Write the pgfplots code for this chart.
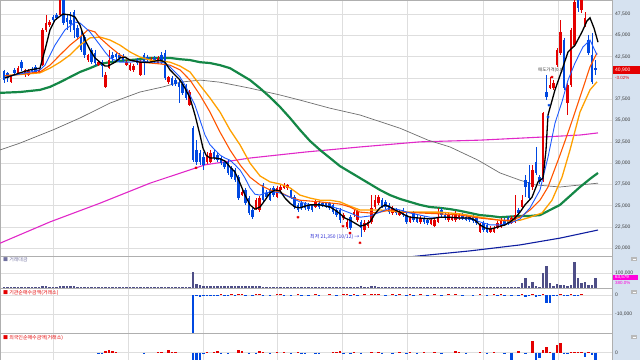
\documentclass[border=0pt]{standalone}
\usepackage{fontspec}
\setmainfont{Liberation Sans}
\newfontfamily\kr{Noto Sans CJK KR}
\usepackage{pgfplots}
\pgfplotsset{compat=1.18}
\usepackage{pgfplotstable}
\usetikzlibrary{backgrounds}
\definecolor{upc}{RGB}{228,0,0}
\definecolor{dnc}{RGB}{0,72,225}
\definecolor{ma10}{RGB}{30,90,255}
\definecolor{ma20}{RGB}{255,85,0}
\definecolor{ma30}{RGB}{255,160,0}
\definecolor{ma60}{RGB}{20,135,70}
\definecolor{ma120}{RGB}{110,110,110}
\definecolor{ma240}{RGB}{225,40,200}
\definecolor{ma480}{RGB}{15,30,160}
\definecolor{gridc}{RGB}{222,222,222}
\definecolor{framec}{RGB}{175,175,175}
\definecolor{stripc}{RGB}{214,226,240}
\definecolor{labc}{RGB}{60,60,60}
\definecolor{volc}{RGB}{78,78,135}
\definecolor{minc}{RGB}{40,40,210}
\definecolor{magc}{RGB}{255,0,220}

\pgfplotsset{
  panel/.style={
    scale only axis, width=612bp, xmin=0, xmax=612,
    clip mode=global,
    axis line style={draw=framec, line width=0.6bp},
    xtick={53,128,203,277,342,407,483,558}, xticklabels={},
    major tick length=0pt,
    xmajorgrids, ymajorgrids,
    grid style={draw=gridc, line width=0.6bp},
    yticklabel pos=right,
    scaled y ticks=false,
    yticklabel style={font=\fontsize{5}{6}\selectfont, text=labc, inner sep=1bp, xshift=2bp},
    /pgf/number format/fixed, /pgf/number format/precision=0,
    /pgf/number format/1000 sep={,}, /pgf/number format/assume math mode=true,
  },
  wick/.style={draw=none, mark=none, forget plot,
    error bars/.cd, y dir=minus, y explicit, error mark=none,
    error bar style={line width=0.7bp, draw=#1}},
  body/.style={draw=none, mark=none, forget plot,
    error bars/.cd, y dir=minus, y explicit, error mark=none,
    error bar style={line width=2.4bp, draw=#1}},
}

% x o h l c  (rising candles)
\pgfplotstableread{
x o h l c
11 39500 40250 39400 40100
18 40600 41400 40350 41150
25 40350 41050 40100 40950
28.5 40350 41050 40250 40800
39 40700 41050 40600 40950
42.5 41500 45850 41400 45650
46 45650 47400 45400 46450
49.5 46200 46800 46000 46550
60 47400 49500 47250 49400
88 42100 42800 41850 42700
98.5 41500 42100 41400 41850
105.5 38950 40700 38800 40350
109 41150 43300 41050 42100
126.5 41500 42100 41400 41850
130 40950 41750 40800 41500
133.5 40950 41650 40700 41400
140.5 40350 42100 40250 41850
151 41850 42450 41750 42200
158 41750 42600 41650 42350
168.5 39500 40250 39300 40100
189.5 36800 38600 36700 38350
207 30150 31300 29900 30950
210.5 30150 31550 30000 31200
242 26250 27100 26150 26600
256 24750 25900 24500 25650
259.5 24500 26150 24250 25900
277 26000 27300 25900 27100
280.5 26850 27450 26750 27200
284 27100 27650 26950 27450
287.5 27100 27550 26850 27450
315.5 24850 25650 24750 25450
343.5 23550 24150 23300 23900
347 22500 23300 22250 23100
354 23900 24500 23650 24250
357.5 23300 24500 23100 24350
364.5 22150 23300 21900 22950
368 22600 23300 22400 23100
371.5 23100 26250 22850 24750
375 24850 26250 24600 25650
378.5 25300 26250 25100 26000
392.5 24150 24950 23900 24750
399.5 23900 24500 23800 24250
410 23100 23800 22950 23550
420.5 23100 23800 22850 23550
431 22850 23550 22750 23300
434.5 22600 23550 22500 23300
438 23100 24750 22950 23650
448.5 23300 24150 23100 23900
452 23300 23900 23200 23650
455.5 23300 24400 23100 24150
459 23550 24150 23300 23900
480 21900 22950 21800 22750
490.5 21900 22600 21800 22400
494 21900 22600 21800 22400
497.5 22400 23200 22250 22950
501 22500 23550 22400 23300
511.5 22950 23800 22850 23550
515 23100 26250 22950 23900
522 24850 26250 24600 25650
532.5 27200 29800 26850 29200
543 28000 36000 27800 35900
550 38800 40100 38700 39150
553.5 38800 39750 38600 39400
557 41500 43500 41300 43300
560.5 42950 46800 42700 45400
567.5 37050 39400 35650 39150
571 39150 45850 38950 45650
574.5 43850 49750 43650 48900
581.5 48000 50550 47600 49750
585 46200 47750 46000 47050
}\upcandles

% x o h l c  (falling candles)
\pgfplotstableread{
x o h l c
4 40800 40950 39400 39750
7.5 40600 40700 39500 40000
14.5 40950 41150 40350 40600
21.5 41850 42100 40800 41150
32 41050 41300 40600 40800
35.5 41300 41500 40450 40700
53 47150 47400 46350 46800
56.5 47400 47600 46800 47050
63.5 49400 49750 46200 46450
67 47050 47400 45650 46550
70.5 46800 47750 45400 46350
74 47750 48000 44700 45650
77.5 45850 46200 44450 44800
81 44800 45650 43050 43300
84.5 44800 45050 42350 42700
91.5 43300 43500 41650 41850
95 42950 43300 41400 41750
102 41850 42100 40100 41400
112.5 42700 43050 41850 42350
116 42800 43050 42100 42450
119.5 42700 42950 41850 42350
123 42600 42800 41850 42100
137 42100 42350 41500 41750
144 42700 42950 40350 41750
147.5 42450 42700 41850 42100
154.5 42350 42600 41750 42000
161.5 42700 43050 41650 41850
165 42950 43300 39750 40000
172 40000 40250 39050 39150
175.5 39750 40000 39050 39300
179 39400 39750 37050 38950
182.5 39300 39500 38000 38250
186 39050 39300 37400 37650
193 34100 34350 30150 30350
196.5 31550 32700 29800 30150
200 31200 31550 29800 30150
203.5 30700 31300 29200 29800
214 31300 31550 30350 30600
217.5 30950 31200 30150 30350
221 30600 30850 29800 30000
224.5 30150 30350 29300 29550
228 30150 30350 28600 28850
231.5 29450 29650 28150 28350
235 29200 29450 27800 28000
238.5 28350 28600 25650 25900
245.5 26850 27100 25100 25300
249 25900 26150 23900 24150
252.5 24500 24750 23450 23650
263 27450 27650 25450 25650
266.5 26500 26850 25800 26000
270 26850 27100 25550 25650
273.5 27100 27300 26000 26250
291 26850 27100 25800 26000
294.5 26000 26250 24600 24850
298 25100 25300 24250 24500
301.5 25300 25550 24500 24750
305 25300 25450 24500 24750
308.5 25100 25300 24400 24600
312 25100 25200 24250 24500
319 25300 25550 24600 24850
322.5 25300 25450 24850 25100
326 25300 25450 24750 24850
329.5 25300 25450 24500 24750
333 25100 25300 24050 24250
336.5 24500 24750 23650 23900
340 24500 24750 22950 23300
350.5 23650 23900 22150 22400
361 23100 23300 21350 22400
382 25650 25900 24750 24850
385.5 25450 25650 24600 24850
389 25100 25300 24050 24250
396 24500 24750 23900 24150
403 24500 24750 23650 23900
406.5 23900 24150 22850 23100
413.5 24150 24400 23100 23300
417 23650 23900 22950 23100
424 23550 23800 22850 23100
427.5 23300 23550 22750 22950
441.5 24500 24750 23650 23900
445 23900 24150 23300 23550
462.5 23900 24150 23300 23550
466 23650 23900 23200 23300
469.5 23650 23900 23100 23300
473 23650 23900 22950 23200
476.5 23550 23800 22750 22950
483.5 22950 23200 21900 22150
487 22750 22950 21800 21900
504.5 23300 23550 22600 22750
508 23550 23800 22750 22950
518.5 24500 24750 23900 24150
525.5 28000 28600 26000 27200
529 27800 29800 25650 25900
536 30150 31900 28600 28850
539.5 28350 28600 27550 27800
546.5 38350 40350 37400 37750
564 44450 44700 38600 38800
578 49500 50300 47750 48200
588.5 44450 45050 42700 42950
592 42700 45300 39300 39500
595.5 41150 42100 40350 40900
}\downcandles

\begin{document}
\begin{tikzpicture}

% ---------------- main price panel ----------------
\begin{axis}[panel, name=main, at={(0,0)}, anchor=north west, height=256bp,
  ymin=19100, ymax=49150,
  ytick={20000,22500,25000,27500,30000,32500,35000,37500,42500,45000,47500},
  extra y ticks={40000}, extra y tick labels={}]
% long moving averages
\addplot[ma480, line width=1.1bp] coordinates {(410,19000) (418,19100) (470,19700) (520,20400) (560,21200) (598,22150)};
\addplot[ma240, line width=1.1bp] coordinates {(0,20600) (50,23100) (100,25300) (150,27650) (205,29800) (250,30600) (305,31300) (360,31900) (420,32500) (480,32700) (540,33050) (580,33300) (598,33550)};
\addplot[ma120, line width=0.7bp] coordinates {(0,31550) (20,32350) (53,33900) (80,35300) (110,37050) (140,38350) (163,38950) (180,39500) (200,39750) (220,39500) (250,38800) (280,38000) (300,37400) (330,36450) (360,35650) (400,34100) (428,32700) (450,31900) (478,30350) (500,28850) (520,28000) (535,27450) (560,27200) (598,27650)};
\addplot[ma60, line width=2.2bp] coordinates {(0,38250) (20,38350) (40,38600) (50,38950) (60,39500) (70,40100) (80,40700) (90,41150) (100,41650) (110,41850) (120,42000) (130,42100) (140,42200) (150,42350) (170,42350) (180,42200) (190,42100) (200,41850) (210,41750) (220,41500) (230,41150) (240,40450) (250,39750) (260,38800) (270,37750) (280,36600) (290,35300) (300,33900) (310,32600) (320,31550) (330,30600) (340,29650) (350,28950) (360,28250) (370,27550) (380,26850) (390,26250) (400,25800) (410,25450) (420,25100) (430,24850) (440,24750) (450,24600) (460,24400) (470,24150) (480,23900) (490,23800) (500,23650) (520,23800) (530,23800) (540,23900) (550,24500) (560,25100) (570,26150) (580,27200) (590,28150) (598,28850)};
% candles
\addplot[wick=upc] table[x=x, y=h, y error minus expr=\thisrow{h}-\thisrow{l}] {\upcandles};
\addplot[body=upc] table[x=x, y=c, y error minus expr=\thisrow{c}-\thisrow{o}] {\upcandles};
\addplot[wick=dnc] table[x=x, y=h, y error minus expr=\thisrow{h}-\thisrow{l}] {\downcandles};
\addplot[body=dnc] table[x=x, y=o, y error minus expr=\thisrow{o}-\thisrow{c}] {\downcandles};
% short moving averages
\addplot[ma30, line width=1.3bp] coordinates {(5,40250) (40,40600) (50,41150) (60,41850) (70,42700) (80,43850) (90,44700) (100,44800) (110,44450) (120,43850) (130,43050) (140,42450) (150,42100) (160,42000) (170,41850) (180,41400) (190,40700) (200,39150) (210,37650) (220,36000) (230,33900) (240,32150) (250,30000) (260,28500) (270,27800) (280,27550) (290,27100) (300,26250) (310,25900) (320,25650) (330,25650) (340,25450) (350,24950) (360,24500) (370,24500) (380,24500) (390,24400) (400,24250) (420,24250) (440,24250) (460,24050) (480,23650) (500,23300) (510,23200) (520,23300) (530,23650) (542,24150) (552,25650) (562,28350) (570,31550) (580,36000) (590,38600) (597,39550)};
\addplot[ma20, line width=1.1bp] coordinates {(5,40250) (40,40700) (50,41500) (60,42700) (70,43850) (80,44800) (88,45650) (95,45400) (100,44700) (110,43650) (120,42700) (130,42100) (140,41850) (150,41750) (160,41650) (170,41500) (180,40950) (190,39750) (200,38000) (210,36000) (220,33650) (230,31550) (240,29800) (250,28350) (260,27450) (270,26850) (280,26600) (290,26000) (300,25650) (320,25450) (340,25200) (350,24850) (360,24250) (370,24150) (380,24250) (390,24500) (400,24250) (420,24150) (440,24050) (460,23900) (480,23550) (500,23300) (510,23300) (520,23650) (530,24500) (540,25650) (548,27200) (560,30950) (570,34250) (580,37750) (590,41300) (597,42950)};
\addplot[ma10, line width=0.9bp] coordinates {(5,40100) (30,40700) (40,40950) (45,41500) (55,43850) (65,45650) (75,46550) (80,46450) (90,45400) (100,43850) (105,43050) (110,42350) (120,41850) (130,41850) (140,42000) (150,41850) (160,41850) (165,41750) (170,41300) (175,40700) (180,40100) (185,39150) (190,38000) (195,36800) (200,35050) (205,33300) (210,32150) (215,31550) (220,30950) (225,30600) (230,30350) (235,29800) (240,29200) (245,28250) (250,27100) (255,26350) (260,26250) (265,26500) (270,26600) (275,26600) (280,26500) (290,26000) (300,25450) (310,25100) (320,25100) (330,24950) (340,24600) (350,24150) (360,23650) (370,23800) (380,24250) (390,24750) (400,24500) (410,24150) (420,23900) (430,23650) (440,23650) (450,23650) (460,23550) (470,23450) (480,23100) (490,22750) (500,22750) (510,22950) (520,23450) (530,24750) (540,26850) (548,30700) (555,34700) (562,37200) (568,39750) (575,41750) (583,43650) (590,44450) (597,42700)};
\addplot[black, line width=1.3bp] coordinates {(5,40000) (20,40600) (30,40950) (40,41150) (45,43300) (50,45650) (55,46800) (60,47250) (63,47500) (70,47400) (75,47150) (80,46200) (85,44450) (90,43300) (95,42350) (100,41850) (105,41400) (108,41400) (115,41850) (120,42350) (125,42450) (130,42100) (140,41850) (150,41850) (160,42100) (165,41850) (170,40950) (175,40350) (180,39750) (185,38800) (190,37650) (195,35650) (200,33300) (203,31750) (206,30950) (210,30600) (215,30600) (220,30500) (225,30250) (230,29550) (235,28950) (240,27650) (245,26250) (250,25100) (255,24600) (260,24850) (265,25650) (270,26500) (275,26850) (280,26750) (285,25900) (290,25300) (295,24850) (300,24750) (305,24950) (310,25100) (320,25100) (330,24850) (335,24500) (340,24050) (345,23550) (350,23300) (355,22950) (360,22600) (365,22750) (370,23100) (375,24050) (380,24750) (385,25100) (390,24850) (395,24500) (400,24250) (405,23900) (410,23650) (420,23550) (430,23450) (440,23650) (450,23650) (460,23550) (470,23550) (475,23300) (480,22750) (485,22400) (490,22250) (495,22400) (500,22600) (505,22750) (510,23100) (515,23550) (520,24250) (525,25100) (532,26000) (538,27800) (543,28250) (546,31550) (548,35650) (555,38600) (562,40950) (568,43050) (575,43850) (582,45400) (587,46700) (590,47050) (594,45850) (598,44200)};
% signal marks
\addplot[only marks, mark=asterisk, mark size=1.4bp, draw=upc, line width=0.6bp] coordinates {(196,29450) (298,23650) (343,22600) (350,21800) (360,20650) (552,40100)};
\addplot[only marks, mark=asterisk, mark size=1.4bp, draw=dnc, line width=0.6bp] coordinates {(549,36800) (548,35400)};
\node[anchor=east, font=\kr\fontsize{5}{6}\selectfont, text=minc, inner sep=0.5bp] at (axis cs:360,21300) {최저 21,350 (10/12) →};
\node[anchor=south, font=\kr\fontsize{4.5}{5}\selectfont, text=labc, inner sep=0.5bp] at (axis cs:551,40600) {매도가격(0.0)};
\end{axis}

% ---------------- trading value panel ----------------
\begin{axis}[panel, name=vol, at={(main.south west)}, anchor=north west, height=32bp,
  ymin=-3450, ymax=217000, ytick={100000}]
\addplot[ycomb, draw=volc, line width=2.3bp] coordinates {(4,6000) (7.5,5000) (11,5000) (14.5,6000) (18,5000) (21.5,6000) (25,5000) (28.5,5000) (32,5000) (35.5,5000) (39,6000) (42.5,9000) (46,8000) (49.5,6000) (53,6000) (56.5,6000) (60,9000) (63.5,9000) (67,7000) (70.5,7000) (74,7000) (77.5,6000) (81,6000) (84.5,6000) (88,5000) (91.5,5000) (95,5000) (98.5,5000) (102,5000) (105.5,6000) (109,6000) (112.5,5000) (116,5000) (119.5,5000) (123,5000) (126.5,5000) (130,5000) (133.5,5000) (137,5000) (140.5,5000) (144,5000) (147.5,5000) (151,5000) (154.5,5000) (158,5000) (161.5,5000) (165,6000) (168.5,5000) (172,5000) (175.5,5000) (179,6000) (182.5,5000) (186,6000) (189.5,6000) (193,107000) (196.5,22000) (200,14000) (203.5,12000) (207,12000) (210.5,11000) (214,9000) (217.5,8000) (221,8000) (224.5,7000) (228,8000) (231.5,7000) (235,7000) (238.5,9000) (242,7000) (245.5,7000) (249,8000) (252.5,7000) (256,7000) (259.5,8000) (263,6000) (266.5,6000) (270,5000) (273.5,5000) (277,6000) (280.5,5000) (284,5000) (287.5,5000) (291,5000) (294.5,6000) (298,5000) (301.5,5000) (305,5000) (308.5,5000) (312,5000) (315.5,5000) (319,5000) (322.5,4000) (326,4000) (329.5,5000) (333,5000) (336.5,5000) (340,6000) (343.5,5000) (347,6000) (350.5,6000) (354,5000) (357.5,5000) (361,7000) (364.5,5000) (368,5000) (371.5,9000) (375,7000) (378.5,6000) (382,5000) (385.5,5000) (389,5000) (392.5,5000) (396,4000) (399.5,4000) (403,4000) (406.5,5000) (410,4000) (413.5,4000) (417,4000) (420.5,4000) (424,4000) (427.5,4000) (431,4000) (434.5,4000) (438,5000) (441.5,5000) (445,4000) (448.5,4000) (452,4000) (455.5,4000) (459,4000) (462.5,4000) (466,4000) (469.5,4000) (473,4000) (476.5,4000) (480,5000) (483.5,5000) (487,5000) (490.5,4000) (494,4000) (497.5,4000) (501,4000) (504.5,4000) (508,4000) (511.5,4000) (515,4000) (518.5,4000) (522,33000) (525.5,63000) (529,10000) (532.5,40000) (536,10000) (539.5,6000) (543,98000) (546.5,148000) (550,33000) (553.5,10000) (557,22000) (560.5,17000) (564,17000) (567.5,10000) (571,15000) (574.5,174000) (578,63000) (581.5,33000) (585,40000) (588.5,17000) (592,17000) (595.5,68000)};
\end{axis}

% ---------------- institutional net buying ----------------
\begin{axis}[panel, name=inst, at={(vol.south west)}, anchor=north west, height=45bp,
  ymin=-20000, ymax=3700, ytick={-10000,0}]
\addplot[ycomb, draw=dnc, line width=2.3bp] coordinates {(193,-21000) (196.5,-600) (200,-1200) (203.5,-500) (207,-400) (210.5,-500) (214,-500) (217.5,-400) (224.5,-400) (228,-500) (235,-400) (245.5,-400) (252.5,-300) (263,-400) (270,-400) (284,-300) (291,-400) (301.5,-400) (308.5,-300) (319,-400) (336.5,-300) (350.5,-400) (357.5,-300) (385.5,-300) (396,-300) (406.5,-400) (413.5,-300) (427.5,-300) (441.5,-300) (462.5,-300) (473,-400) (487,-300) (497.5,-300) (504.5,-300) (511.5,-400) (518.5,-400) (525.5,-1100) (529,-400) (536,-1200) (539.5,-500) (546.5,-4200) (550,-4200) (553.5,-500) (557,-400) (564,-500) (567.5,-400) (574.5,-500) (578,-400)};
\addplot[ycomb, draw=upc, line width=2.3bp] coordinates {(221,300) (231.5,300) (238.5,400) (242,300) (256,300) (259.5,400) (277,300) (280.5,300) (298,300) (315.5,300) (329.5,300) (343.5,400) (347,300) (354,400) (364.5,300) (371.5,400) (375,300) (378.5,300) (392.5,300) (399.5,300) (410,300) (420.5,400) (434.5,300) (448.5,300) (455.5,300) (480,300) (494,300) (501,300) (522,300) (532.5,300) (543,400) (560.5,300) (571,300) (581.5,300)};
\end{axis}

% ---------------- foreign net buying ----------------
\begin{axis}[panel, name=forn, at={(inst.south west)}, anchor=north west, height=27bp,
  ymin=-730, ymax=1970, ytick={0}]
\addplot[ycomb, draw=upc, line width=2.3bp] coordinates {(105.5,150) (109,270) (112.5,150) (116,100) (158,100) (161.5,120) (168.5,270) (172,120) (175.5,100) (207,100) (214,120) (217.5,150) (238.5,250) (242,150) (259.5,200) (263,120) (277,100) (284,120) (298,100) (333,100) (336.5,120) (340,130) (354,100) (371.5,100) (378.5,120) (399.5,100) (410,100) (424,100) (434.5,120) (455.5,150) (459,100) (480,120) (494,100) (518.5,170) (532.5,1170) (543,300) (546.5,550) (550,80) (557,770) (560.5,930) (571,100) (574.5,120) (578,80) (581.5,60) (588.5,60)};
\addplot[ycomb, draw=dnc, line width=2.3bp] coordinates {(98.5,-80) (102,-60) (144,-60) (193,-800) (196.5,-800) (200,-800) (203.5,-150) (221,-100) (228,-80) (249,-100) (256,-80) (270,-80) (291,-100) (301.5,-120) (305,-150) (315.5,-100) (319,-80) (343.5,-100) (350.5,-120) (361,-100) (382,-80) (392.5,-100) (406.5,-100) (417,-80) (441.5,-100) (466,-80) (487,-100) (504.5,-100) (511.5,-700) (525.5,-100) (536,-700) (539.5,-500) (553.5,-800) (564,-100) (567.5,-150) (585,-400) (592,-200) (595.5,-900)};
\end{axis}

% overlay in pixel coordinates measured from the top-left corner
\begin{scope}[shift={(main.north west)}, x=1bp, y=-1bp]
\begin{scope}[on background layer]
\fill[stripc] (612,0) rectangle (640,360);
\end{scope}
\node[anchor=west, font=\kr\fontsize{5}{6}\selectfont, text=volc!80, inner sep=0] at (3,259.5) {■ 거래대금};
\node[anchor=west, font=\kr\fontsize{5}{6}\selectfont, text=upc, inner sep=0] at (3,293) {■ 기관순매수금액(거래소)};
\node[anchor=west, font=\kr\fontsize{5}{6}\selectfont, text=upc, inner sep=0] at (3,338) {■ 외국인순매수금액(거래소)};
\fill[upc] (613,66) rectangle (640,74);
\node[anchor=west, font=\fontsize{5}{6}\selectfont, text=white, inner sep=0] at (615,70) {40,900};
\node[anchor=west, font=\fontsize{4.5}{5}\selectfont, text=upc, inner sep=0] at (615,77.5) {-3.02\%};
\fill[magc] (613,275) rectangle (638,280);
\node[anchor=west, font=\fontsize{4.5}{5}\selectfont, text=white, inner sep=0] at (615,277.5) {63,579};
\node[anchor=west, font=\fontsize{4.5}{5}\selectfont, text=magc, inner sep=0] at (615,283) {380.0\%};
\foreach \yy in {257,290,335} {\fill[gray!55] (631,\yy) rectangle (637,\yy+4); \draw[white, line width=0.5bp] (632.5,\yy+2) -- (635.5,\yy+2);}
\end{scope}
\pgfresetboundingbox
\path[use as bounding box] (main.north west) rectangle ([xshift=640bp, yshift=-360bp]main.north west);
\end{tikzpicture}
\end{document}
